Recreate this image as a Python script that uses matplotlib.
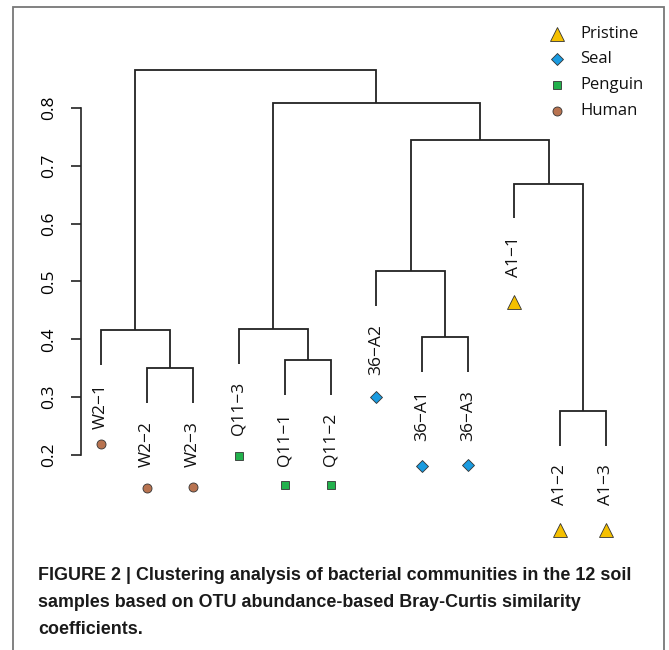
import matplotlib
matplotlib.use("Agg")
import matplotlib.pyplot as plt
from matplotlib import font_manager
from matplotlib.patches import Rectangle

# Листья дендрограммы (в порядке слева направо)
labels = ["W2\u22121", "W2\u22122", "W2\u22123", "Q11\u22123", "Q11\u22121", "Q11\u22122",
          "36\u2212A2", "36\u2212A1", "36\u2212A3", "A1\u22121", "A1\u22122", "A1\u22123"]
groups = ["Human", "Human", "Human", "Penguin", "Penguin", "Penguin",
          "Seal", "Seal", "Seal", "Pristine", "Pristine", "Pristine"]
# Высоты значков под подписями
marker_y = [0.219, 0.143, 0.145, 0.198, 0.148, 0.148,
            0.300, 0.181, 0.183, 0.465, 0.070, 0.070]

# Слияния (как merge в R): отрицательное = лист, положительное = номер слияния
merge_a = [-2, -1, -5, -4, -8, -7, -11, -10, 6, 4, 10]
merge_b = [-3, 1, -6, 3, -9, 5, -12, 7, 8, 9, 2]
merge_h = [0.350, 0.416, 0.364, 0.418, 0.404, 0.518,
           0.276, 0.669, 0.745, 0.809, 0.866]

legend_names = ["Pristine", "Seal", "Penguin", "Human"]
styles = {"Pristine": ("^", "#F5C000", 9.5),
          "Seal": ("D", "#1A9BE0", 6),
          "Penguin": ("s", "#22B14C", 6),
          "Human": ("o", "#B87350", 6.5)}

yticks = [0.2, 0.3, 0.4, 0.5, 0.6, 0.7, 0.8]
hang = 0.06

fig = plt.figure(figsize=(6.69, 6.50), dpi=100)
ax = fig.add_axes([0.1208, 0.1577, 0.8151, 0.7829])
ax.set_xlim(0.56, 12.44)
ax.set_ylim(0.04, 0.92)

lab_font = ["Open Sans", "DejaVu Sans"]
pos = {}


def node_xy(k):
    if k < 0:
        return -k, None
    return pos[k]


for i, (a, b, h) in enumerate(zip(merge_a, merge_b, merge_h), start=1):
    xa, ha = node_xy(a)
    xb, hb = node_xy(b)
    ya = ha if ha is not None else h - hang
    yb = hb if hb is not None else h - hang
    ax.plot([xa, xa, xb, xb], [ya, h, h, yb], color="#222222", lw=1.3,
            solid_joinstyle="miter", solid_capstyle="butt")
    pos[i] = ((xa + xb) / 2, h)
    for k, hk in ((a, ya), (b, yb)):
        if k < 0:
            ax.annotate(labels[-k - 1], (-k, hk), xytext=(0, -13),
                        textcoords="offset points", rotation=90,
                        ha="center", va="top", fontsize=12.5,
                        family=lab_font, color="#111111")

for i, g in enumerate(groups):
    m, c, s = styles[g]
    ax.plot(i + 1, marker_y[i], marker=m, color=c, ms=s,
            mec="#333333", mew=0.6, ls="none")

# Ось Y как в R: без рамки, подписи повернуты
for sp in ["top", "right", "bottom"]:
    ax.spines[sp].set_visible(False)
ax.spines["left"].set_bounds(0.2, 0.8)
ax.spines["left"].set_color("#222222")
ax.spines["left"].set_linewidth(1.2)
ax.set_yticks(yticks)
ax.set_yticklabels([f"{t:.1f}" for t in yticks], rotation=90, va="center",
                   fontsize=12.5, family=lab_font)
ax.tick_params(axis="y", length=7, width=1.2, color="#222222", pad=10)
ax.set_xticks([])

# Легенда
for j, name in enumerate(legend_names):
    m, c, s = styles[name]
    yy = 0.948 - j * 0.0395
    fig.lines.append(plt.Line2D([0.8326], [yy], marker=m, color=c, ms=s,
                                mec="#333333", mew=0.6, ls="none",
                                transform=fig.transFigure))
    fig.text(0.867, yy, name, fontsize=12, va="center", ha="left",
             family=["Open Sans", "DejaVu Sans"], color="#111111")

# Рамка
fig.patches.append(Rectangle((0.0195, -0.05), 0.973, 1.04, fill=False,
                             ec="#777777", lw=1.3, transform=fig.transFigure))

# Подпись
try:
    font_manager.findfont("Liberation Sans Narrow", fallback_to_default=False)
    cap_font, cap_size = "Liberation Sans Narrow", 13.2
except Exception:
    cap_font, cap_size = "Liberation Sans", 12.9
caption = ["FIGURE 2 | Clustering analysis of bacterial communities in the 12 soil",
           "samples based on OTU abundance-based Bray-Curtis similarity",
           "coefficients."]
for j, line in enumerate(caption):
    fig.text(0.057, 1 - (575 + j * 27.5) / 650, line, fontsize=cap_size,
             fontweight="bold", family=cap_font, va="center", ha="left",
             color="#1a1a1a")

fig.savefig("out.png", dpi=100)
